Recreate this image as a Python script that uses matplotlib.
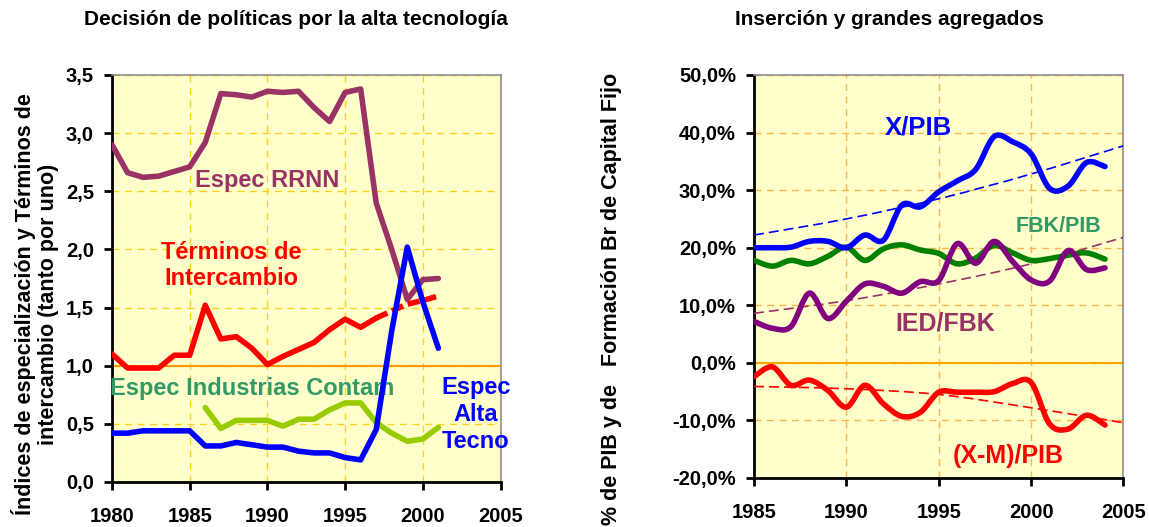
import numpy as np
import matplotlib
matplotlib.use("Agg")
import matplotlib.pyplot as plt
from matplotlib.ticker import FuncFormatter
from matplotlib.path import Path
from matplotlib.patches import PathPatch

plt.rcParams['font.family'] = ['Liberation Sans', 'DejaVu Sans']
plt.rcParams['font.weight'] = 'bold'

# ---- left panel data
years_l = list(range(1980, 2002))
rrnn = [2.90, 2.66, 2.62, 2.63, 2.67, 2.71, 2.92, 3.34, 3.33, 3.31, 3.36, 3.35,
        3.36, 3.22, 3.10, 3.35, 3.38, 2.40, 2.00, 1.57, 1.74, 1.75]
terminos = [1.10, 0.98, 0.98, 0.98, 1.09, 1.09, 1.52, 1.23, 1.25, 1.15, 1.01, 1.08,
            1.14, 1.20, 1.31, 1.40, 1.33, 1.41]
terminos_proy_years = [1997, 1998, 1999, 2000, 2001]
terminos_proy = [1.41, 1.47, 1.53, 1.56, 1.60]
alta_tecno = [0.42, 0.42, 0.44, 0.44, 0.44, 0.44, 0.31, 0.31, 0.34, 0.32, 0.30, 0.30,
              0.265, 0.25, 0.25, 0.21, 0.19, 0.45, 1.30, 2.02, 1.55, 1.15]
years_contam = list(range(1986, 2002))
contam = [0.64, 0.46, 0.53, 0.53, 0.53, 0.48, 0.54, 0.54, 0.62, 0.68, 0.68, 0.51,
          0.42, 0.35, 0.37, 0.47]

# ---- right panel data (%)
years_r = list(range(1985, 2005))
x_pib = [20.0, 20.0, 20.1, 21.1, 21.1, 20.0, 22.2, 21.3, 27.4, 27.1, 29.7, 31.6,
         33.6, 39.3, 38.4, 36.3, 30.3, 30.7, 34.8, 34.1]
fbk_pib = [17.8, 16.8, 17.8, 17.2, 18.5, 20.1, 17.8, 19.8, 20.5, 19.6, 19.0, 17.2,
           18.2, 20.4, 19.1, 17.8, 18.1, 18.7, 19.1, 18.0]
ied_fbk = [7.2, 6.0, 6.3, 12.1, 7.7, 10.7, 13.7, 13.3, 12.1, 14.1, 14.3, 20.7,
           17.3, 21.1, 17.6, 14.4, 14.2, 19.5, 16.2, 16.5]
xm_pib = [-2.4, -0.7, -3.9, -3.0, -4.8, -7.7, -3.9, -7.1, -9.3, -8.6, -5.1, -5.1,
          -5.1, -5.0, -3.6, -3.4, -10.6, -11.5, -9.1, -10.8]

# trend lines
trend_years = [1985, 1990, 1995, 2000, 2005]
trend_x_pib = [22.2, 25.0, 28.5, 32.8, 37.7]
trend_ied_fbk = [8.6, 10.8, 13.7, 17.2, 21.8]
trend_xm_pib = [-4.1, -4.5, -5.5, -7.8, -10.4]

BG = '#FFFFCC'


def style_axes(ax, grid_color):
    ax.set_facecolor(BG)
    for s in ['left', 'bottom']:
        ax.spines[s].set_linewidth(2.0)
        ax.spines[s].set_color('black')
    for s in ['top', 'right']:
        ax.spines[s].set_linewidth(1.2)
        ax.spines[s].set_color('#8c8c8c')
    ax.tick_params(axis='both', direction='out', length=6, width=2.0)
    ax.tick_params(axis='x', pad=12, top=False)
    ax.tick_params(axis='y', pad=7, right=False)
    ax.grid(True, color=grid_color, linestyle=(0, (5, 4)), linewidth=1.0)
    ax.set_axisbelow(True)


def smooth_line(ax, x, y, **kw):
    # spreadsheet-style smoothed line: bezier path through every data point
    pts = np.column_stack([x, y]).astype(float)
    verts = [pts[0]]
    codes = [Path.MOVETO]
    n = len(pts)
    for i in range(n - 1):
        p0 = pts[i - 1] if i > 0 else pts[i]
        p1, p2 = pts[i], pts[i + 1]
        p3 = pts[i + 2] if i + 2 < n else pts[i + 1]
        verts += [p1 + (p2 - p0) / 6.0, p2 - (p3 - p1) / 6.0, p2]
        codes += [Path.CURVE4] * 3
    kw.setdefault('capstyle', 'round')
    kw.setdefault('joinstyle', 'round')
    ax.add_patch(PathPatch(Path(verts, codes), fill=False, **kw))


fig = plt.figure(figsize=(11.49, 5.27), dpi=100)
lw = 4.0
rnd = dict(solid_joinstyle='round', solid_capstyle='round')

# ================= left =================
ax1 = fig.add_axes([0.0975, 0.0854, 0.3381, 0.7723])
style_axes(ax1, '#FFD21A')
ax1.set_xlim(1980, 2005)
ax1.set_ylim(0, 3.5)
ax1.set_xticks(range(1980, 2006, 5))
ax1.set_yticks(np.arange(0, 3.51, 0.5))
ax1.yaxis.set_major_formatter(FuncFormatter(lambda v, p: f"{v:.1f}".replace('.', ',')))
for lab in ax1.get_xticklabels() + ax1.get_yticklabels():
    lab.set_fontsize(14.5)
    lab.set_fontweight('bold')

ax1.axhline(1.0, color='#FF9900', lw=1.5, zorder=2)
ax1.plot(years_l, rrnn, color='#993366', lw=lw, zorder=3, **rnd)
ax1.plot(years_l[:len(terminos)], terminos, color='#FF0000', lw=lw, zorder=4, **rnd)
ax1.plot(terminos_proy_years, terminos_proy, color='#FF0000', lw=lw,
         linestyle=(0, (2.2, 0.9)), dash_capstyle='butt', zorder=4)
ax1.plot(years_contam, contam, color='#99CC00', lw=lw, zorder=3, **rnd)
ax1.plot(years_l, alta_tecno, color='#0000FF', lw=lw, zorder=5, **rnd)

ax1.text(1990.0, 2.59, 'Espec RRNN', color='#993366', fontsize=17, ha='center', va='center')
ax1.text(1987.7, 1.86, 'Términos de\nIntercambio', color='#FF0000', fontsize=17, ha='center',
         va='center', linespacing=1.15)
ax1.text(1989.0, 0.80, 'Espec Industrias Contam', color='#339966', fontsize=17, ha='center', va='center')
ax1.text(2003.4, 0.58, 'Espec\nAlta\nTecno', color='#0000FF', fontsize=17, ha='center', va='center',
         linespacing=1.2)

fig.text(0.2574, 0.9526, 'Decisión de políticas por la alta tecnología', fontsize=15,
         ha='center', va='baseline')
fig.text(0.0305, 0.8235, 'Índices de especialización y Términos de\nintercambio (tanto por uno)',
         rotation=90, fontsize=15.5, ha='center', va='top', multialignment='center', linespacing=1.1)

# ================= right =================
ax2 = fig.add_axes([0.6562, 0.093, 0.3216, 0.7647])
style_axes(ax2, '#FFB547')
ax2.set_xlim(1985, 2005)
ax2.set_ylim(-20, 50)
ax2.set_xticks(range(1985, 2006, 5))
ax2.set_yticks(range(-20, 51, 10))
ax2.yaxis.set_major_formatter(FuncFormatter(lambda v, p: f"{v:.1f}%".replace('.', ',')))
for lab in ax2.get_xticklabels() + ax2.get_yticklabels():
    lab.set_fontsize(14.5)
    lab.set_fontweight('bold')

ax2.axhline(0, color='#FFA500', lw=1.5, zorder=2)

tdash = (0, (6, 3))
smooth_line(ax2, trend_years, trend_x_pib, edgecolor='#0000FF', lw=1.2, linestyle=tdash,
            capstyle='butt', zorder=3)
smooth_line(ax2, trend_years, trend_ied_fbk, edgecolor='#993366', lw=1.2, linestyle=tdash,
            capstyle='butt', zorder=3)
smooth_line(ax2, trend_years, trend_xm_pib, edgecolor='#FF0000', lw=1.2, linestyle=tdash,
            capstyle='butt', zorder=3)

smooth_line(ax2, years_r, fbk_pib, edgecolor='#008000', lw=lw, zorder=4)
smooth_line(ax2, years_r, ied_fbk, edgecolor='#800080', lw=lw, zorder=5)
smooth_line(ax2, years_r, x_pib, edgecolor='#0000FF', lw=lw, zorder=5)
smooth_line(ax2, years_r, xm_pib, edgecolor='#FF0000', lw=lw, zorder=5)

ax2.text(1993.9, 40.9, 'X/PIB', color='#0000FF', fontsize=18.5, ha='center', va='center')
ax2.text(2001.5, 23.7, 'FBK/PIB', color='#339966', fontsize=15.5, ha='center', va='center')
ax2.text(1995.35, 6.75, 'IED/FBK', color='#993366', fontsize=18, ha='center', va='center')
ax2.text(1998.75, -16.1, '(X-M)/PIB', color='#FF0000', fontsize=18, ha='center', va='center')

fig.text(0.7744, 0.9526, 'Inserción y grandes agregados', fontsize=15, ha='center', va='baseline')
fig.text(0.5326, 0.862, '% de PIB y de   Formación Br de Capital Fijo', rotation=90,
         fontsize=15.5, ha='center', va='top')

fig.savefig('out.png', dpi=100)
